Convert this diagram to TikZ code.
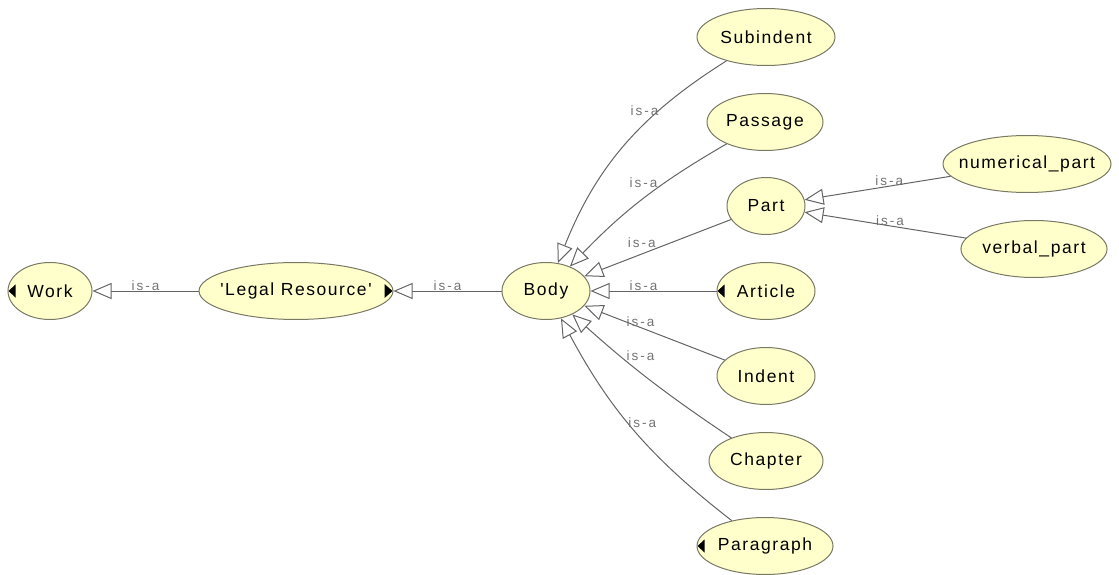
\documentclass[tikz,border=0pt]{standalone}
\usepackage{fontspec}
\setmainfont{Liberation Sans}
\newfontfamily\clsfont[LetterSpace=9]{Liberation Sans}
\newfontfamily\lblfont[LetterSpace=15]{Liberation Sans}
\usetikzlibrary{shapes.geometric,arrows.meta}

\definecolor{clsfill}{RGB}{255,255,204}
\definecolor{clsline}{RGB}{120,120,100}
\definecolor{edgegray}{RGB}{100,100,100}
\definecolor{lblgray}{RGB}{115,115,115}

\newcommand\westtri[1]{\fill (#1.west) ++(1,0) -- ++(7,-6.5) -- ++(0,13) -- cycle;}
\newcommand\easttri[1]{\fill (#1.east) ++(-1,0) -- ++(-8,-7) -- ++(0,14) -- cycle;}

\tikzset{
  cls/.style={ellipse, draw=clsline, fill=clsfill, line width=1pt, inner sep=0pt,
    minimum height=57pt, font=\clsfont\fontsize{17.5}{20}\selectfont},
  isa/.style={draw=edgegray, line width=1pt,
    -{Triangle[length=19pt,width=16pt,fill=white,line width=1pt]}},
  lbl/.style={inner sep=0pt, text=lblgray, font=\lblfont\fontsize{13.5}{15}\selectfont},
}

\begin{document}
\begin{tikzpicture}[x=1pt, y=-1pt]
  \useasboundingbox (0,0) rectangle (1119,575);

  % classes
  \node[cls, minimum width=84pt]  (work)      at (50,291)   {Work};
  \node[cls, minimum width=194pt, inner xsep=-24pt] (legal) at (296,291) {'Legal Resource'};
  \node[cls, minimum width=88pt]  (body)      at (546,291)  {Body};
  \node[cls, minimum width=138pt] (subindent) at (766,37)   {Subindent};
  \node[cls, minimum width=116pt] (passage)   at (765,122)  {Passage};
  \node[cls, minimum width=78pt]  (part)      at (766,206)  {Part};
  \node[cls, minimum width=98pt]  (article)   at (766,291)  {Article};
  \node[cls, minimum width=98pt]  (indent)    at (766,376)  {Indent};
  \node[cls, minimum width=114pt] (chapter)   at (766,461)  {Chapter};
  \node[cls, minimum width=136pt] (paragraph) at (765,546)  {Paragraph};
  \node[cls, minimum width=168pt, inner xsep=-22pt] (numerical) at (1027,164) {numerical\_part};
  \node[cls, minimum width=144pt] (verbal)    at (1034,249) {verbal\_part};

  % hidden neighbours
  \westtri{work}
  \easttri{legal}
  \westtri{article}
  \westtri{paragraph}

  % is-a links
  \draw[isa] (legal) -- node[lbl, pos=0.5, anchor=south] {is-a} (work);
  \draw[isa] (body) -- node[lbl, pos=0.5, anchor=south] {is-a} (legal);
  \draw[isa] (subindent) to[bend right=18] node[lbl, pos=0.3, anchor=east] {is-a} (body);
  \draw[isa] (passage) to[bend right=8] node[lbl, pos=0.4, anchor=south east] {is-a} (body);
  \draw[isa] (part) -- node[lbl, pos=0.51, anchor=south east] {is-a} (body);
  \draw[isa] (article) -- node[lbl, pos=0.58, anchor=south] {is-a} (body);
  \draw[isa] (indent) -- node[lbl, pos=0.6, anchor=south] {is-a} (body);
  \draw[isa] (chapter) to[bend left=4] node[lbl, pos=0.66, anchor=south west] {is-a} (body);
  \draw[isa] (paragraph) to[bend left=12] node[lbl, pos=0.54, anchor=west] {is-a} (body);
  \draw[isa] (numerical) -- node[lbl, pos=0.42, anchor=south] {is-a} (part);
  \draw[isa] (verbal) -- node[lbl, pos=0.47, anchor=south] {is-a} (part);
\end{tikzpicture}
\end{document}
